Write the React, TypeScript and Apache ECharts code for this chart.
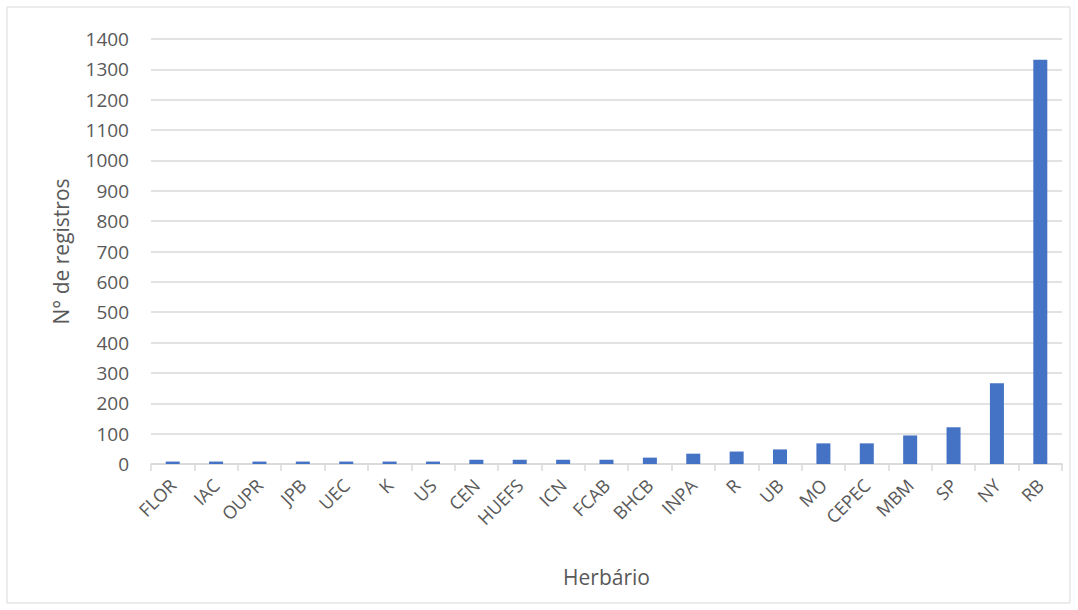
import React, { useEffect, useRef } from "react";
import * as echarts from "echarts";

const categories = ["FLOR", "IAC", "OUPR", "JPB", "UEC", "K", "US", "CEN", "HUEFS", "ICN", "FCAB", "BHCB", "INPA", "R", "UB", "MO", "CEPEC", "MBM", "SP", "NY", "RB"];
const values = [8, 8, 8, 8, 8, 8, 8, 14, 14, 14, 14, 21, 34, 41, 48, 68, 68, 94, 121, 266, 1332];
const yTicks = { min: 0, max: 1400, interval: 100 };

export default function App() {
  const ref = useRef<HTMLDivElement>(null);
  useEffect(() => {
    const chart = echarts.init(ref.current!, undefined, { renderer: "svg" });
    const font = "Open Sans";
    chart.setOption({
      animation: false,
      backgroundColor: "#ffffff",
      graphic: [
        {
          type: "rect",
          shape: { x: 7, y: 7, width: 1063, height: 596 },
          style: { fill: "none", stroke: "#d9d9d9", lineWidth: 1 },
        },
      ],
      grid: { left: 151, right: 16, top: 39, bottom: 146 },
      xAxis: {
        type: "category",
        data: categories,
        name: "Herbário",
        nameLocation: "middle",
        nameGap: 102,
        nameTextStyle: { fontFamily: font, fontSize: 21, color: "#595959" },
        axisLine: { lineStyle: { color: "#d9d9d9", width: 1.5 } },
        axisTick: { show: true, length: 7, lineStyle: { color: "#d9d9d9", width: 1.5 } },
        axisLabel: { rotate: 45, fontFamily: font, fontSize: 18, color: "#595959", margin: 18, interval: 0 },
      },
      yAxis: {
        type: "value",
        min: yTicks.min,
        max: yTicks.max,
        interval: yTicks.interval,
        name: "N° de registros",
        nameLocation: "middle",
        nameGap: 80,
        nameTextStyle: { fontFamily: font, fontSize: 21, color: "#595959" },
        axisLine: { show: false },
        axisTick: { show: false },
        axisLabel: { fontFamily: font, fontSize: 19, color: "#595959", margin: 22, formatter: (v: number) => String(v) },
        splitLine: { lineStyle: { color: "#d9d9d9", width: 1.5 } },
      },
      series: [
        {
          type: "bar",
          data: values,
          barWidth: 14,
          itemStyle: { color: "#4472C4" },
        },
      ],
    });
    return () => chart.dispose();
  }, []);
  return <div ref={ref} style={{ width: 1078, height: 610, position: "absolute", left: 0, top: 0 }} />;
}
